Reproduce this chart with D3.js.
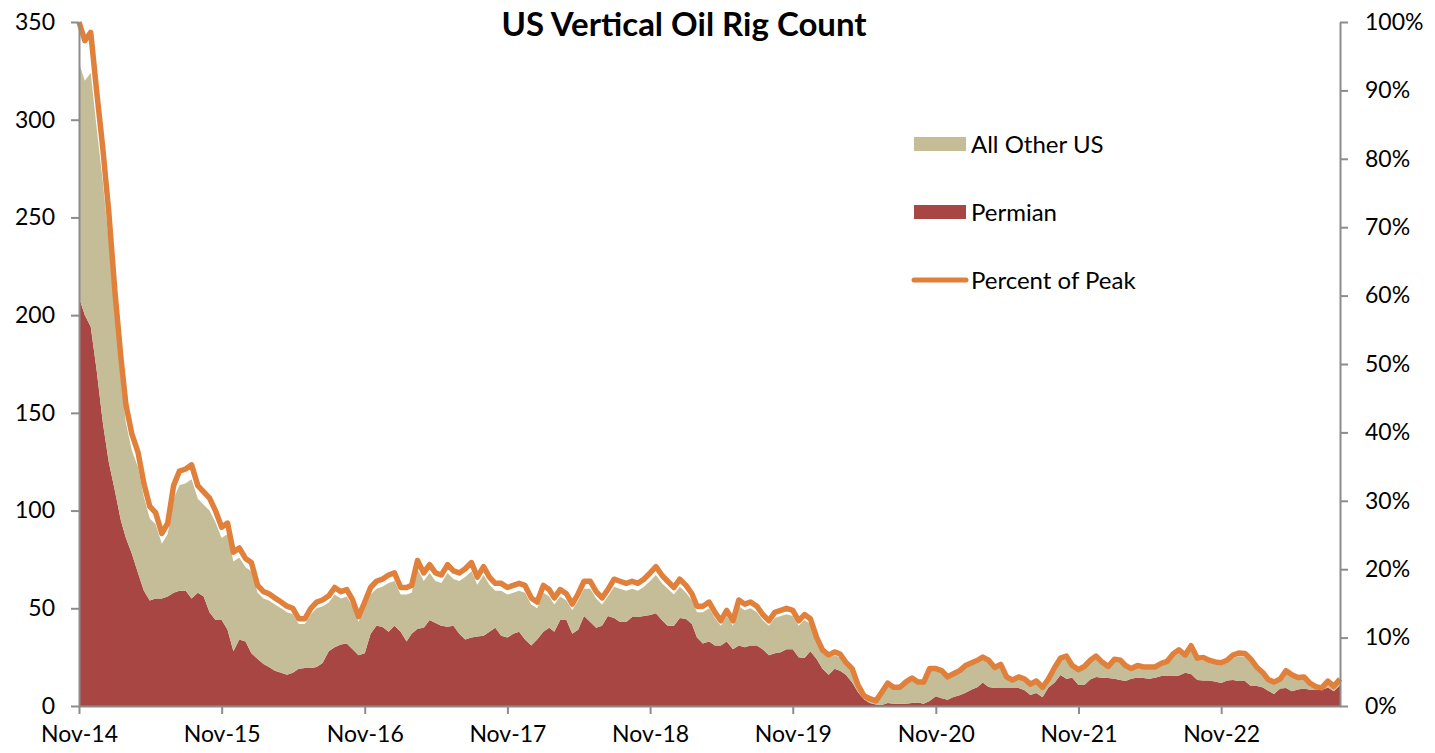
<!DOCTYPE html>
<html lang="en">
<head>
<meta charset="UTF-8">
<title>US Vertical Oil Rig Count</title>
<script src="https://d3js.org/d3.v7.min.js"></script>
<style>
  body { margin: 0; background: #fff; }
  text { font-family: Lato, "Open Sans", sans-serif; }
</style>
</head>
<body>
<div id="chart"></div>
<script>
// semi-monthly readings, starting Nov 2014 (1st and 16th of each month)
var permian = [
  209, 200, 194, 172, 145, 125, 110, 95, 86, 78, 68, 59, 54, 55, 55, 56, 58, 59, 59, 55,
  58, 56, 48, 44, 44, 39, 28, 34, 33, 27, 24, 21.5, 20, 18, 17, 16, 17, 19, 19.5, 19.5,
  20, 22, 28, 30, 31.5, 32, 29, 26, 27, 37, 41, 40.5, 38, 41, 38, 33, 37, 39.5, 40, 44,
  42.5, 41, 40.5, 41, 37, 34, 35, 35.5, 36, 38, 40, 36, 35, 37, 38, 34, 31, 34, 38, 40,
  38, 44, 44, 37, 39, 46, 43, 40, 41, 46, 45, 43, 43, 45.5, 45.6, 46, 46.6, 47.5, 44, 41,
  41, 45, 44.5, 42, 35, 32, 33, 31, 31, 33, 29, 31, 30, 31, 31, 29, 26, 27, 27.5, 29,
  29, 25, 24.6, 28, 24, 19, 16, 19, 18, 16, 12, 7, 3.5, 1.5, 0.8, 0.5, 1.5, 1.2, 1.2, 1.2,
  1.5, 1.8, 1.2, 2.5, 5, 4, 3.2, 4.6, 5.5, 6.8, 8.5, 9.7, 12, 9.7, 9.2, 9.2, 9.2, 9.2, 9.2, 8,
  5.6, 6.6, 4.5, 9.5, 12, 15.9, 14, 14.5, 10.7, 10.7, 13.5, 14.8, 14.5, 14.3, 14, 13.3, 12.8, 14, 14.6, 14.3,
  14, 14.5, 15.4, 15.4, 15.4, 15.6, 17, 16.4, 13.3, 13.1, 13, 12.5, 11.8, 13, 13.3, 12.8, 12.8, 10.2, 10.2, 9.5,
  7.8, 6.2, 9, 9.2, 7.5, 8.5, 9, 8.3, 8.2, 8.2, 9.5, 7.5, 10.5
];
var otherUS = [
  120, 120, 130, 124, 123, 113, 89, 73, 59, 53, 54, 48, 42, 38, 28, 32, 48, 54, 55, 61,
  48, 47, 52, 50, 42, 49, 46, 42, 38, 42, 34, 33.5, 34, 34, 33, 32, 30, 23, 22.5, 27.5,
  30, 29, 25, 27, 23.5, 24, 22, 17, 23, 20, 19, 20.5, 25, 23, 19, 24, 21, 30.5, 24, 24,
  21.5, 22, 27.5, 24, 27, 32, 34, 26.5, 31, 24, 19, 23, 22, 21, 21, 24, 21, 16, 20, 16,
  14, 12, 10, 12, 15, 14, 17, 15, 11, 10, 16, 17, 16, 14.5, 13.4, 15, 17.4, 19.5, 19, 19,
  16, 16, 13.5, 12, 13, 16, 17, 14, 10, 13, 12, 20, 19, 19, 17, 15, 15, 18, 18.5, 18,
  17, 16, 19.4, 14, 9, 8, 8.5, 7, 7, 5, 6, 3, 1.5, 2, 1.7, 6.2, 9.5, 7.8, 7.8, 10.3,
  12, 9.7, 10.3, 15.5, 13, 13, 10.8, 10.9, 11.5, 12.7, 12.3, 12.3, 11.5, 12.3, 9.3, 10.8, 4.8, 3.3, 4.8, 5,
  4.9, 5.4, 4.5, 3.5, 6.5, 7.1, 10, 5, 6.8, 8.3, 8.5, 9.2, 6.5, 4.7, 8.5, 8.7, 6.7, 4, 4.9, 4.5,
  4.8, 4.3, 5.1, 6.1, 9.6, 11.4, 7.5, 12.6, 9.7, 10.2, 9, 8.7, 9, 9, 11.2, 12.7, 12.5, 12.3, 8.3, 6.5,
  5, 5.3, 4, 7.8, 7.5, 5.2, 5, 2.7, 1.1, 0.5, 2.5, 2, 2.5
];
var leftTicks = [0, 50, 100, 150, 200, 250, 300, 350];
var rightTicks = [0, 0.1, 0.2, 0.3, 0.4, 0.5, 0.6, 0.7, 0.8, 0.9, 1];
var tickYears = [2014, 2015, 2016, 2017, 2018, 2019, 2020, 2021, 2022];

var width = 1435, height = 753;
var plotLeft = 79, plotRight = 1340, plotTop = 22, plotBottom = 706;
var axisColor = "#8c8c8c";

var dates = permian.map(function(d, i) {
  return new Date(2014, 10 + Math.floor(i / 2), i % 2 === 0 ? 1 : 16);
});
var data = dates.map(function(d, i) {
  return { date: d, permian: permian[i], other: otherUS[i] };
});
var peak = d3.max(data, function(d) { return d.permian + d.other; });

var x = d3.scaleTime()
  .domain([dates[0], dates[dates.length - 1]])
  .range([plotLeft, plotRight]);
var y = d3.scaleLinear().domain([0, 350]).range([plotBottom, plotTop]);
var y2 = d3.scaleLinear().domain([0, 1]).range([plotBottom, plotTop]);

var svg = d3.select("#chart").append("svg")
  .attr("width", width)
  .attr("height", height);

var stack = d3.stack().keys(["permian", "other"]);
var series = stack(data);
var colors = { permian: "#a84644", other: "#c4bd97" };

var area = d3.area()
  .x(function(d) { return x(d.data.date); })
  .y0(function(d) { return y(d[0]); })
  .y1(function(d) { return y(d[1]); });

svg.selectAll(".layer")
  .data(series)
  .enter().append("path")
  .attr("class", "layer")
  .attr("d", area)
  .attr("fill", function(d) { return colors[d.key]; });

var line = d3.line()
  .x(function(d) { return x(d.date); })
  .y(function(d) { return y2((d.permian + d.other) / peak); });

svg.append("path")
  .datum(data)
  .attr("d", line)
  .attr("fill", "none")
  .attr("stroke", "#e0803a")
  .attr("stroke-width", 5.5)
  .attr("stroke-linejoin", "round");

// axes
function styleAxis(g) {
  g.select(".domain").attr("stroke", axisColor).attr("stroke-width", 2);
  g.selectAll(".tick line").attr("stroke", axisColor).attr("stroke-width", 2);
  g.selectAll(".tick text").attr("fill", "#000").style("font-size", "23px");
}

svg.append("g")
  .attr("transform", "translate(" + plotLeft + ",0)")
  .call(d3.axisLeft(y).tickValues(leftTicks).tickSize(8).tickSizeOuter(0).tickPadding(16))
  .call(styleAxis);

svg.append("g")
  .attr("transform", "translate(" + plotRight + ",0)")
  .call(d3.axisRight(y2).tickValues(rightTicks).tickSize(8).tickSizeOuter(0)
    .tickPadding(17).tickFormat(d3.format(".0%")))
  .call(styleAxis);

var novs = tickYears.map(function(yr) { return new Date(yr, 10, 1); });
svg.append("g")
  .attr("transform", "translate(0," + plotBottom + ")")
  .call(d3.axisBottom(x).tickValues(novs).tickSize(8).tickSizeOuter(0)
    .tickPadding(12).tickFormat(d3.timeFormat("%b-%y")))
  .call(styleAxis);

// title
svg.append("text")
  .attr("x", 684)
  .attr("y", 36)
  .attr("text-anchor", "middle")
  .style("font-size", "33px")
  .style("font-weight", "bold")
  .text("US Vertical Oil Rig Count");

// legend
var legend = svg.append("g").attr("transform", "translate(914,0)");
legend.append("rect").attr("x", 0).attr("y", 137).attr("width", 52).attr("height", 14).attr("fill", colors.other);
legend.append("text").attr("x", 57).attr("y", 153).style("font-size", "24px").text("All Other US");
legend.append("rect").attr("x", 0).attr("y", 205).attr("width", 52).attr("height", 14).attr("fill", colors.permian);
legend.append("text").attr("x", 57).attr("y", 221).style("font-size", "24px").text("Permian");
legend.append("line").attr("x1", 0).attr("x2", 52).attr("y1", 280).attr("y2", 280)
  .attr("stroke", "#e0803a").attr("stroke-width", 5).attr("stroke-linecap", "round");
legend.append("text").attr("x", 57).attr("y", 289).style("font-size", "24px").text("Percent of Peak");
</script>
</body>
</html>
